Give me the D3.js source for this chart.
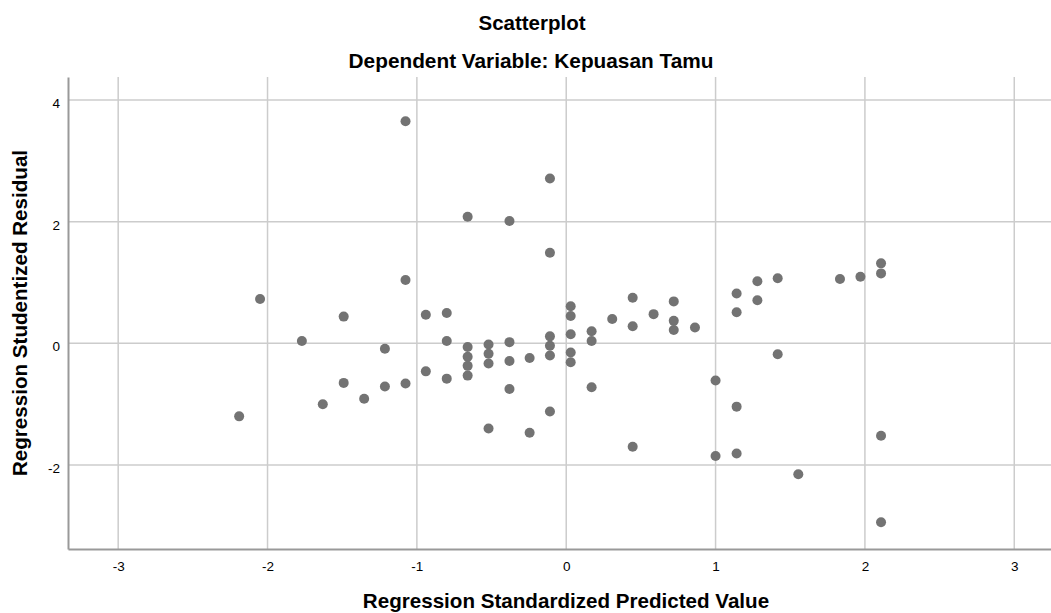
<!DOCTYPE html>
<html>
<head>
<meta charset="utf-8">
<script src="https://cdn.jsdelivr.net/npm/d3@7"></script>
<style>
  body { margin: 0; background: #fff; }
  text { font-family: "Liberation Sans", Arial, sans-serif; fill: #000; }
</style>
</head>
<body>
<div id="chart"></div>
<script>
// predicted (x) and studentized residual (y)
const predicted = [
  -2.05, -1.49, -1.77, -1.49, -1.63, -2.19, -1.076, -0.109, -0.66, -0.38,
  -0.109, -1.076, -0.80, 0.03, 0.445, 0.72, -0.94, 0.03, 0.585, 0.308,
  0.445, 0.72, 0.72, 0.862, 0.17, 0.17, 0.03, 0.03, 0.03, -0.109,
  -0.109, -0.109, -0.38, -0.38, -0.245, -0.52, -0.52, -0.52, -0.66, -0.66,
  -0.66, -0.66, -0.80, -0.80, -0.94, -1.076, -1.214, -1.214, -1.353, -0.38,
  -0.109, -0.52, -0.245, 0.17, 0.445, 2.108, 2.108, 1.97, 1.833, 1.416,
  1.28, 1.28, 1.141, 1.141, 1.416, 1.0, 1.141, 1.0, 1.141, 1.554,
  2.108, 2.108
];
const residual = [
  0.73, 0.44, 0.04, -0.65, -1.00, -1.20, 3.65, 2.71, 2.08, 2.01,
  1.49, 1.04, 0.50, 0.61, 0.75, 0.69, 0.47, 0.45, 0.48, 0.40,
  0.28, 0.37, 0.22, 0.26, 0.20, 0.04, 0.15, -0.15, -0.31, 0.115,
  -0.04, -0.20, 0.02, -0.29, -0.24, -0.02, -0.17, -0.33, -0.06, -0.22,
  -0.37, -0.53, 0.04, -0.58, -0.46, -0.66, -0.09, -0.71, -0.91, -0.75,
  -1.12, -1.40, -1.47, -0.72, -1.70, 1.315, 1.15, 1.095, 1.057, 1.07,
  1.02, 0.71, 0.82, 0.51, -0.18, -0.61, -1.04, -1.85, -1.81, -2.15,
  -1.52, -2.94
];
const xTicks = [-3, -2, -1, 0, 1, 2, 3];
const yTicks = [-2, 0, 2, 4];

const width = 1051, height = 613;
const margin = { top: 77, right: 0, bottom: 64, left: 68 };

const svg = d3.select("#chart").append("svg")
  .attr("width", width)
  .attr("height", height);

const x = d3.scaleLinear()
  .domain([-3.336, 3.246])
  .range([margin.left, width - margin.right]);

const y = d3.scaleLinear()
  .domain([-3.38, 4.378])
  .range([height - margin.bottom, margin.top]);

// gridlines
svg.append("g")
  .selectAll("line")
  .data(xTicks)
  .join("line")
  .attr("x1", d => x(d)).attr("x2", d => x(d))
  .attr("y1", margin.top).attr("y2", height - margin.bottom)
  .attr("stroke", "#cccccc")
  .attr("stroke-width", 1.5);

svg.append("g")
  .selectAll("line")
  .data(yTicks)
  .join("line")
  .attr("x1", margin.left).attr("x2", width - margin.right)
  .attr("y1", d => y(d)).attr("y2", d => y(d))
  .attr("stroke", "#cccccc")
  .attr("stroke-width", 1.5);

// axes (plain hyphen for the minus sign, like SPSS)
const fmt = d => String(d);
const xAxis = svg.append("g")
  .attr("transform", "translate(0," + (height - margin.bottom) + ")")
  .call(d3.axisBottom(x).tickValues(xTicks).tickSize(0).tickPadding(12).tickFormat(fmt));
const yAxis = svg.append("g")
  .attr("transform", "translate(" + margin.left + ",0)")
  .call(d3.axisLeft(y).tickValues(yTicks).tickSize(0).tickPadding(8).tickFormat(fmt));

[xAxis, yAxis].forEach(a => {
  a.select(".domain").attr("stroke", "#999999").attr("stroke-width", 2);
  a.selectAll("text")
    .style("font-family", "'Liberation Sans', Arial, sans-serif")
    .style("font-size", "13.5px")
    .attr("fill", "#222");
});
xAxis.selectAll("text").attr("dy", "0.71em");
yAxis.selectAll("text").attr("dy", "0.55em");

// points
svg.append("g")
  .selectAll("circle")
  .data(predicted.map((p, i) => [p, residual[i]]))
  .join("circle")
  .attr("cx", d => x(d[0]))
  .attr("cy", d => y(d[1]))
  .attr("r", 5)
  .attr("fill", "#737373");

// titles
svg.append("text")
  .attr("x", 532).attr("y", 30)
  .attr("text-anchor", "middle")
  .style("font-size", "20.5px").style("font-weight", "bold")
  .text("Scatterplot");

svg.append("text")
  .attr("x", 531).attr("y", 68)
  .attr("text-anchor", "middle")
  .style("font-size", "20.8px").style("font-weight", "bold")
  .text("Dependent Variable: Kepuasan Tamu");

svg.append("text")
  .attr("x", 566).attr("y", 608)
  .attr("text-anchor", "middle")
  .style("font-size", "20.6px").style("font-weight", "bold")
  .text("Regression Standardized Predicted Value");

svg.append("text")
  .attr("transform", "translate(27," + ((margin.top + height - margin.bottom) / 2) + ") rotate(-90)")
  .attr("text-anchor", "middle")
  .style("font-size", "20.6px").style("font-weight", "bold")
  .text("Regression Studentized Residual");
</script>
</body>
</html>
